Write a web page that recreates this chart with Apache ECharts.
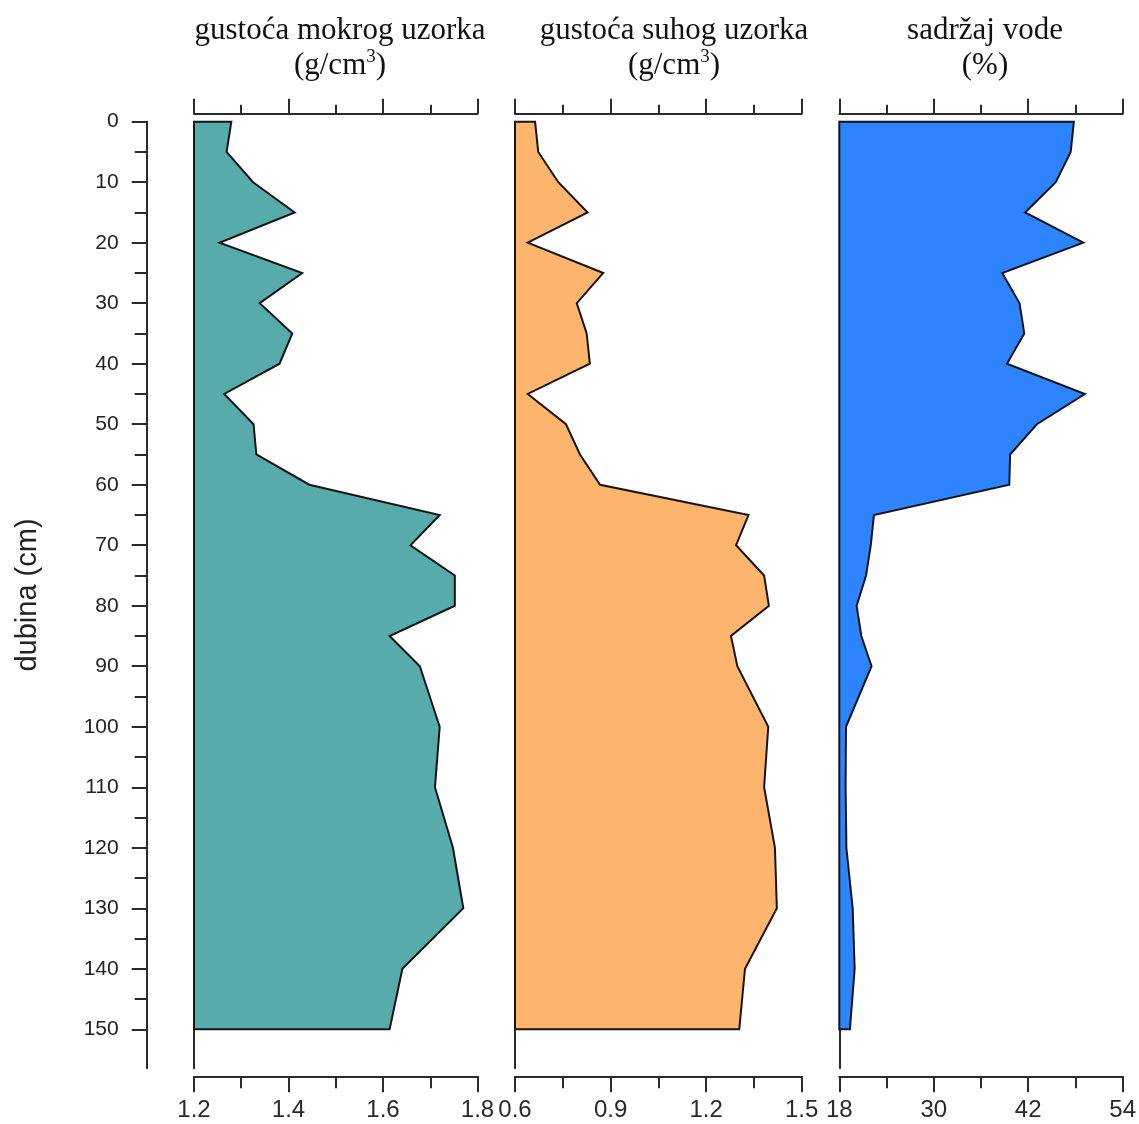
<!DOCTYPE html>
<html>
<head>
<meta charset="utf-8">
<script src="https://cdn.jsdelivr.net/npm/echarts@6/dist/echarts.min.js"></script>
<style>
  html, body { margin: 0; padding: 0; background: #fff; }
  #chart { width: 1139px; height: 1124px; }
</style>
</head>
<body>
<div id="chart"></div>
<script>
// ---- data ----
const depth = [0, 5, 10, 15, 20, 25, 30, 35, 40, 45, 50, 55, 60, 65, 70, 75, 80, 85, 90, 100, 110, 120, 130, 140, 150];
const wetDensity = [1.279, 1.269, 1.325, 1.413, 1.254, 1.429, 1.339, 1.408, 1.381, 1.264, 1.326, 1.332, 1.444, 1.720, 1.658, 1.752, 1.752, 1.614, 1.678, 1.720, 1.710, 1.748, 1.770, 1.641, 1.614];
const dryDensity = [0.663, 0.673, 0.736, 0.828, 0.640, 0.877, 0.794, 0.825, 0.835, 0.640, 0.760, 0.804, 0.867, 1.333, 1.294, 1.382, 1.397, 1.278, 1.298, 1.395, 1.382, 1.416, 1.422, 1.322, 1.304];
const waterContent = [47.8, 47.4, 45.5, 41.6, 49.0, 38.7, 40.9, 41.5, 39.3, 49.2, 43.1, 39.7, 39.6, 22.4, 22.0, 21.4, 20.2, 20.8, 22.1, 18.85, 18.8, 18.9, 19.7, 19.95, 19.35];
const depthMajorTicks = [0, 10, 20, 30, 40, 50, 60, 70, 80, 90, 100, 110, 120, 130, 140, 150];
const depthMinorTicks = [5, 15, 25, 35, 45, 55, 65, 75, 85, 95, 105, 115, 125, 135, 145];
const panelTitles = ['gustoća mokrog uzorka', 'gustoća suhog uzorka', 'sadržaj vode'];
const panelUnits = ['(g/cm{sup|3})', '(g/cm{sup|3})', '(%)'];
const depthName = 'dubina (cm)';

// ---- layout / style ----
const panels = [
  { left: 194, width: 283.5, min: 1.2, max: 1.8, interval: 0.2, values: wetDensity, fill: '#57ABAA', titleX: 335 },
  { left: 515, width: 286.7, min: 0.6, max: 1.5, interval: 0.3, values: dryDensity, fill: '#FDB46C', titleX: 669 },
  { left: 839.3, width: 283.4, min: 18, max: 54, interval: 12, values: waterContent, fill: '#2E83FF', titleX: 980 }
];
const GRID_TOP = 121.7, GRID_H = 946.6, DEPTH_MAX = 156.45;
const AX = '#2b2b2b';

const grid = [], xAxis = [], yAxis = [], series = [], title = [];
panels.forEach((p, i) => {
  grid.push({ left: p.left, width: p.width, top: GRID_TOP, height: GRID_H, containLabel: false });
  const base = {
    type: 'value', gridIndex: i, min: p.min, max: p.max, interval: p.interval,
    axisLine: { show: true, onZero: false, lineStyle: { color: AX, width: 2 } },
    splitLine: { show: false },
    minorSplitLine: { show: false }
  };
  xAxis.push(Object.assign({}, base, {
    position: 'top', offset: 8,
    axisTick: { show: true, inside: false, length: 15, lineStyle: { color: AX, width: 2 } },
    minorTick: { show: true, splitNumber: 2, length: 9, lineStyle: { color: AX, width: 2 } },
    axisLabel: { show: false }
  }));
  xAxis.push(Object.assign({}, base, {
    position: 'bottom', offset: 8,
    axisTick: { show: true, inside: false, length: 16, lineStyle: { color: AX, width: 2 } },
    minorTick: { show: true, splitNumber: 2, length: 12, lineStyle: { color: AX, width: 2 } },
    axisLabel: { show: true, margin: 22, fontFamily: 'Liberation Sans', fontSize: 24, color: '#2a2a2a',
      formatter: v => String(+v.toFixed(2)) }
  }));
  yAxis.push({
    type: 'value', gridIndex: i, inverse: true, min: 0, max: DEPTH_MAX, position: 'left', offset: 0,
    axisLine: { show: true, onZero: false, lineStyle: { color: AX, width: 2 } },
    axisTick: { show: false }, axisLabel: { show: false }, splitLine: { show: false }
  });
  title.push({
    text: panelTitles[i] + '\n' + panelUnits[i],
    left: p.titleX, top: 8, textAlign: 'center',
    textStyle: {
      fontFamily: 'Liberation Serif', fontSize: 31, fontWeight: 'normal', color: '#111', lineHeight: 35, align: 'center',
      rich: { sup: { fontFamily: 'Liberation Serif', fontSize: 19, verticalAlign: 'top', lineHeight: 35, padding: [0, 0, 14, 0], color: '#111' } }
    }
  });
  const vals = p.values, xmin = p.min;
  series.push({
    type: 'custom', xAxisIndex: i * 2 + 1, yAxisIndex: i,
    data: vals.map((v, k) => [v, depth[k]]),
    encode: { x: 0, y: 1 },
    clip: false,
    renderItem: function (params, api) {
      if (params.dataIndex !== 0) return null;
      const pts = [api.coord([xmin, depth[0]])];
      for (let k = 0; k < vals.length; k++) pts.push(api.coord([vals[k], depth[k]]));
      pts.push(api.coord([xmin, depth[depth.length - 1]]));
      return { type: 'polygon', shape: { points: pts },
        style: { fill: p.fill, stroke: '#151515', lineWidth: 2, lineJoin: 'miter' } };
    }
  });
});
// depth axis (major ticks + labels)
yAxis.push({
  type: 'value', gridIndex: 0, inverse: true, min: 0, max: DEPTH_MAX, position: 'left', offset: 47.3,
  name: depthName, nameLocation: 'middle', nameRotate: 90, nameGap: 104,
  nameTextStyle: { fontFamily: 'Liberation Sans', fontSize: 29, color: '#222' },
  axisLine: { show: true, onZero: false, lineStyle: { color: AX, width: 2 } },
  axisTick: { show: true, length: 15, customValues: depthMajorTicks, lineStyle: { color: AX, width: 2 } },
  axisLabel: { show: true, customValues: depthMajorTicks, margin: 28, fontFamily: 'Liberation Sans', fontSize: 21, color: '#222' },
  splitLine: { show: false }
});
// depth axis minor ticks
yAxis.push({
  type: 'value', gridIndex: 0, inverse: true, min: 0, max: DEPTH_MAX, position: 'left', offset: 47.3,
  axisLine: { show: false },
  axisTick: { show: true, length: 12, customValues: depthMinorTicks, lineStyle: { color: AX, width: 2 } },
  axisLabel: { show: false },
  splitLine: { show: false }
});

const chart = echarts.init(document.getElementById('chart'), null, { renderer: 'canvas' });
chart.setOption({ animation: false, backgroundColor: '#fff', title, grid, xAxis, yAxis, series });
</script>
</body>
</html>
